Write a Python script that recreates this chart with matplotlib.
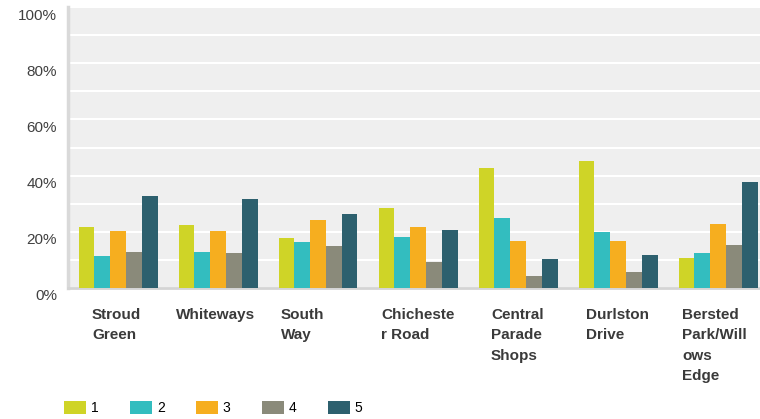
import numpy as np
import matplotlib
matplotlib.use("Agg")
import matplotlib.pyplot as plt
from matplotlib.patches import Patch
import matplotlib.transforms as mtransforms

plt.rcParams['font.family'] = ['Liberation Sans', 'DejaVu Sans']

# Data
categories = ["Stroud\nGreen", "Whiteways", "South\nWay", "Chicheste\nr Road",
              "Central\nParade\nShops", "Durlston\nDrive", "Bersted\nPark/Will\nows\nEdge"]
series_names = ["1", "2", "3", "4", "5"]
values = {
    "1": [21.7, 22.4, 17.8, 28.5, 42.7, 45.2, 10.7],
    "2": [11.4, 12.8, 16.4, 18.1, 24.9, 19.9, 12.5],
    "3": [20.3, 20.3, 24.2, 21.7, 16.7, 16.7, 22.8],
    "4": [12.8, 12.5, 14.9, 9.3, 4.3, 5.7, 15.3],
    "5": [32.7, 31.7, 26.3, 20.6, 10.3, 11.7, 37.7],
}
colors = ["#CFD427", "#33BDBF", "#F6AE1F", "#8A8A7A", "#2D606E"]
yticks = [0, 20, 40, 60, 80, 100]
ytick_labels = ["0%", "20%", "40%", "60%", "80%", "100%"]
# where each category label starts, measured from the left edge of its band
label_offsets = [0.24, 0.08, 0.13, 0.13, 0.23, 0.18, 0.14]

W, H = 760, 419
fig = plt.figure(figsize=(W / 100, H / 100), dpi=100)
ax = fig.add_axes([68 / W, (H - 288) / H, 700 / W, 281 / H])
ax.set_facecolor("#EFEFEF")

x = np.arange(len(categories))
bw = 0.158
for j, name in enumerate(series_names):
    ax.bar(x + (j - 2) * bw, values[name], width=bw, color=colors[j],
           edgecolor="none", zorder=3)

ax.set_xlim(-0.5, len(categories) - 0.5)
ax.set_ylim(0, 100)
ax.set_axisbelow(True)
ax.set_yticks(yticks)
ax.set_yticks(np.arange(10, 100, 20), minor=True)
ax.grid(axis="y", which="both", color="white", linewidth=1.5, zorder=1)
ax.set_yticklabels(ytick_labels, fontsize=11, color="#404040")
ax.tick_params(axis="y", which="both", length=0, pad=8)
ax.tick_params(axis="x", length=0, labelbottom=False)
offset = mtransforms.ScaledTranslation(0, -7 / 100, fig.dpi_scale_trans)
for lbl in ax.get_yticklabels():
    lbl.set_transform(lbl.get_transform() + offset)

for s in ["top", "right"]:
    ax.spines[s].set_visible(False)
ax.spines["left"].set_color("#D9D9D9")
ax.spines["left"].set_linewidth(2.5)
ax.spines["bottom"].set_color("#D4D4D4")
ax.spines["bottom"].set_linewidth(2)

# category labels, bold, left aligned under each group
trans = mtransforms.blended_transform_factory(ax.transData, fig.transFigure)
for i, (cat, off) in enumerate(zip(categories, label_offsets)):
    ax.text(i - 0.5 + off, 1 - 308 / H, cat, transform=trans, ha="left", va="top",
            fontsize=11, fontweight="bold", color="#3A3A3A", linespacing=1.58)

handles = [Patch(facecolor=c, edgecolor="none", label=n) for c, n in zip(colors, series_names)]
fig.legend(handles=handles, loc="center left", bbox_to_anchor=(64 / W, 1 - 408 / H),
           ncol=5, frameon=False, fontsize=10, handlelength=1.58, handleheight=1.15,
           handletextpad=0.36, columnspacing=2.25, borderpad=0, borderaxespad=0)

fig.savefig("out.png", dpi=100)
